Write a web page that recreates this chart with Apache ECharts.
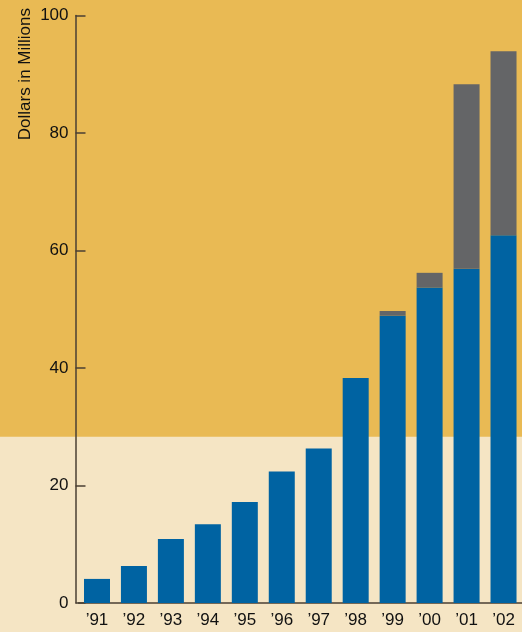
<!DOCTYPE html>
<html>
<head>
<meta charset="utf-8">
<script src="https://cdn.jsdelivr.net/npm/echarts@6/dist/echarts.min.js"></script>
<style>
  html, body { margin: 0; padding: 0; background: #F5E5C4; }
  #chart { width: 522px; height: 632px; }
</style>
</head>
<body>
<div id="chart"></div>
<script>
// Fiscal years shown along the bottom
const years = ["’91", "’92", "’93", "’94", "’95", "’96", "’97", "’98", "’99", "’00", "’01", "’02"];
// Lower (blue) portion of each bar, dollars in millions
const baseValues = [4.1, 6.3, 10.9, 13.4, 17.2, 22.4, 26.3, 38.3, 48.9, 53.7, 56.9, 62.6];
// Upper (gray) portion stacked on top
const extraValues = [0, 0, 0, 0, 0, 0, 0, 0, 0.8, 2.5, 31.4, 31.3];
// Value at which the background changes from cream to gold
const bandLevel = 28.3;
const yTicks = { min: 0, max: 100, interval: 20 };

const GOLD = '#E9BA54';
const CREAM = '#F5E5C4';
const BLUE = '#0063A2';
const GRAY = '#646567';
const AXIS = '#4A3F33';
const TEXT = '#111111';
const FONT = '"Liberation Sans", Arial, sans-serif';

const chart = echarts.init(document.getElementById('chart'), null, { renderer: 'canvas' });

const option = {
  backgroundColor: CREAM,
  animation: false,
  grid: { left: 78.5, right: 0, top: 15.5, bottom: 29 },
  xAxis: {
    type: 'category',
    data: years,
    axisLine: { lineStyle: { color: AXIS, width: 1.5 } },
    axisTick: { show: false },
    axisLabel: { color: TEXT, fontSize: 17, fontFamily: FONT, margin: 9 }
  },
  yAxis: {
    type: 'value',
    min: yTicks.min,
    max: yTicks.max,
    interval: yTicks.interval,
    offset: 3,
    splitLine: { show: false },
    axisLine: { show: true, lineStyle: { color: AXIS, width: 1.5 } },
    axisTick: { show: true, inside: true, length: 10, lineStyle: { color: AXIS, width: 1.5 } },
    axisLabel: { color: TEXT, fontSize: 17, fontFamily: FONT, margin: 7 }
  },
  series: [
    {
      name: 'base',
      type: 'bar',
      stack: 'total',
      data: baseValues,
      barWidth: 26,
      itemStyle: { color: BLUE },
      z: 3
    },
    {
      name: 'extra',
      type: 'bar',
      stack: 'total',
      data: extraValues,
      barWidth: 26,
      itemStyle: { color: GRAY },
      z: 3
    }
  ]
};

chart.setOption(option);

// Gold upper background, down to the band level on the value axis
const bandY = chart.convertToPixel({ yAxisIndex: 0 }, bandLevel);
chart.setOption({
  graphic: [
    {
      type: 'rect',
      z: -10,
      silent: true,
      shape: { x: 0, y: 0, width: 522, height: bandY },
      style: { fill: GOLD }
    },
    {
      type: 'text',
      z: 10,
      x: 25,
      y: 8,
      rotation: Math.PI / 2,
      style: {
        text: 'Dollars in Millions',
        fill: TEXT,
        font: '17px ' + FONT,
        align: 'right',
        verticalAlign: 'middle'
      }
    }
  ]
});
</script>
</body>
</html>
